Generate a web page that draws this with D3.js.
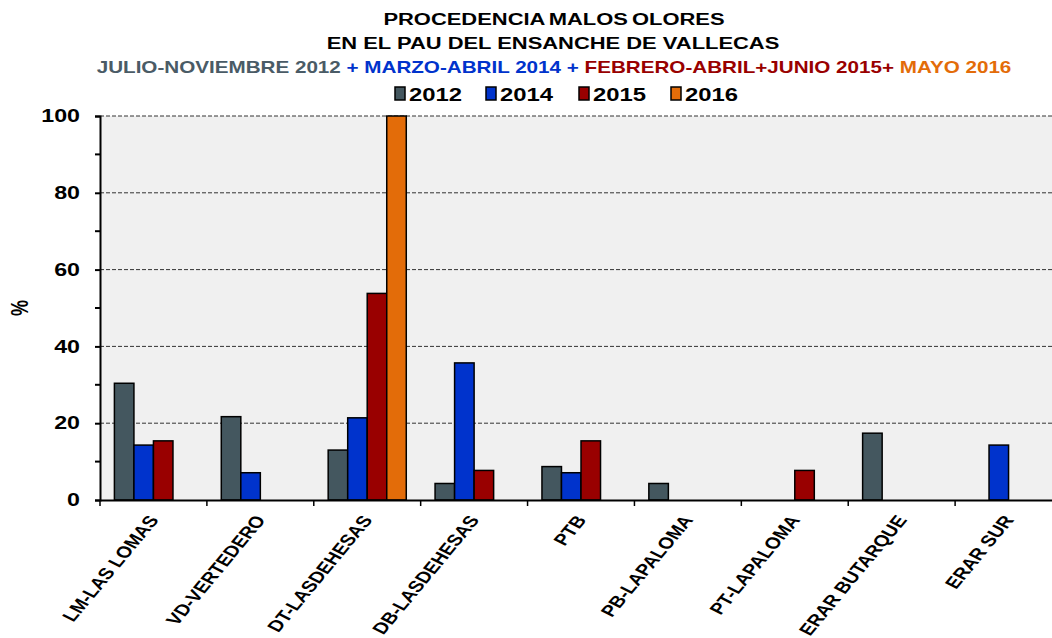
<!DOCTYPE html>
<html>
<head>
<meta charset="utf-8">
<script src="https://cdn.jsdelivr.net/npm/d3@7"></script>
<style>
  body { margin: 0; background: #fff; }
  text { font-family: "Liberation Sans", Arial, sans-serif; font-weight: bold; }
</style>
</head>
<body>
<div class="container"></div>
<script>
// values (percent of complaints per origin)
const categories = ['LM-LAS LOMAS', 'VD-VERTEDERO', 'DT-LASDEHESAS', 'DB-LASDEHESAS', 'PTB',
    'PB-LAPALOMA', 'PT-LAPALOMA', 'ERAR BUTARQUE', 'ERAR SUR'];
const seriesNames = ['2012', '2014', '2015', '2016'];
const values2012 = [30.4, 21.7, 13.0, 4.3, 8.7, 4.3, 0, 17.4, 0];
const values2014 = [14.3, 7.1, 21.4, 35.7, 7.1, 0, 0, 0, 14.3];
const values2015 = [15.4, 0, 53.8, 7.7, 15.4, 0, 7.7, 0, 0];
const values2016 = [0, 0, 100, 0, 0, 0, 0, 0, 0];
const yTicks = [0, 20, 40, 60, 80, 100];
const colors = ['#44575f', '#0033cc', '#990000', '#e36c09'];

const w = 1052, h = 638;
const padding = { top: 116, bottom: 138, left: 100, right: -10 };
// the original picture is stretched sideways, text included
const sx = 1.29;

const series = [values2012, values2014, values2015, values2016];
const dataset = [];
categories.forEach((c, i) => {
    series.forEach((s, j) => {
        if (s[i] > 0) dataset.push({ cat: c, year: seriesNames[j], value: s[i], color: colors[j] });
    });
});

const svg = d3.select('div.container')
    .append('svg')
    .attr('width', w)
    .attr('height', h);

const xScale = d3.scaleBand()
    .domain(categories)
    .range([padding.left, w - padding.right]);

const groupScale = d3.scaleBand()
    .domain(seriesNames)
    .range([14.4, xScale.bandwidth() - 14.4]);

const yScale = d3.scaleLinear()
    .domain([0, 100])
    .range([h - padding.bottom, padding.top]);

const stretched = (x, y, extra) => 'translate(' + x + ',' + y + ') scale(' + sx + ',1)' + (extra || '');

// plot background
svg.append('rect')
    .attr('x', padding.left)
    .attr('y', padding.top)
    .attr('width', w - padding.left)
    .attr('height', h - padding.bottom - padding.top)
    .attr('fill', '#f0f0f0');

// grid lines
svg.append('g')
    .selectAll('line')
    .data(yTicks.slice(1))
    .enter()
    .append('line')
    .attr('x1', padding.left)
    .attr('x2', w)
    .attr('y1', d => yScale(d))
    .attr('y2', d => yScale(d))
    .attr('stroke', '#333')
    .attr('stroke-width', 1)
    .attr('stroke-dasharray', '4,2');

// bars
svg.append('g')
    .selectAll('rect')
    .data(dataset)
    .enter()
    .append('rect')
    .attr('x', d => xScale(d.cat) + groupScale(d.year))
    .attr('y', d => yScale(d.value))
    .attr('width', groupScale.bandwidth())
    .attr('height', d => yScale(0) - yScale(d.value))
    .attr('fill', d => d.color)
    .attr('stroke', '#000')
    .attr('stroke-width', 1.5);

// y axis
const yAxis = d3.axisLeft(yScale)
    .tickValues(yTicks)
    .tickSize(5);
const yG = svg.append('g')
    .attr('transform', 'translate(' + padding.left + ',0)')
    .call(yAxis);
yG.select('.domain').attr('stroke', '#000').attr('stroke-width', 2);
yG.selectAll('.tick line').attr('stroke', '#000').attr('stroke-width', 2);
yG.selectAll('.tick text')
    .attr('x', -20 / sx)
    .attr('transform', 'scale(' + sx + ',1)')
    .attr('fill', '#000')
    .style('font-size', '18px')
    .style('font-family', '"Liberation Sans", Arial, sans-serif')
    .style('font-weight', 'bold');
// minor ticks
yG.selectAll('line.minor')
    .data([10, 30, 50, 70, 90])
    .enter()
    .append('line')
    .attr('class', 'minor')
    .attr('x1', -5)
    .attr('x2', 0)
    .attr('y1', d => yScale(d))
    .attr('y2', d => yScale(d))
    .attr('stroke', '#000')
    .attr('stroke-width', 2);

svg.append('text')
    .text('%')
    .attr('transform', stretched(28, yScale(50), ' rotate(-90)'))
    .attr('text-anchor', 'middle')
    .style('font-size', '18px');

// x axis
const xAxis = d3.axisBottom(xScale).tickSize(0).tickFormat('');
const xG = svg.append('g')
    .attr('transform', 'translate(0,' + yScale(0) + ')')
    .call(xAxis);
xG.select('.domain').attr('stroke', '#000').attr('stroke-width', 2);
xG.selectAll('line.sep')
    .data(categories)
    .enter()
    .append('line')
    .attr('class', 'sep')
    .attr('x1', d => xScale(d))
    .attr('x2', d => xScale(d))
    .attr('y1', 0)
    .attr('y2', 6)
    .attr('stroke', '#000')
    .attr('stroke-width', 1.5);

svg.append('g')
    .selectAll('text')
    .data(categories)
    .enter()
    .append('text')
    .text(d => d)
    .attr('text-anchor', 'end')
    .attr('transform', d => stretched(xScale(d) + xScale.bandwidth() / 2 + 6, yScale(0) + 20, ' rotate(-57)'))
    .style('font-size', '16px');

// titles
svg.append('text')
    .text('PROCEDENCIA MALOS OLORES')
    .attr('transform', stretched(554, 25))
    .attr('text-anchor', 'middle')
    .style('font-size', '17px')
    .style('word-spacing', '-1.5px');
svg.append('text')
    .text('EN EL PAU DEL ENSANCHE DE VALLECAS')
    .attr('transform', stretched(553, 49))
    .attr('text-anchor', 'middle')
    .style('font-size', '17px');

const sub = svg.append('text')
    .attr('transform', stretched(554, 73))
    .attr('text-anchor', 'middle')
    .style('font-size', '16px');
const subParts = [
    ['JULIO-NOVIEMBRE 2012 ', '#4a5b66'],
    ['+ MARZO-ABRIL 2014 + ', '#0033cc'],
    ['FEBRERO-ABRIL+JUNIO 2015+ ', '#990000'],
    ['MAYO 2016', '#e36c09']
];
sub.selectAll('tspan')
    .data(subParts)
    .enter()
    .append('tspan')
    .text(d => d[0])
    .attr('fill', d => d[1]);

// legend
const legX = [395, 486, 579, 671];
const leg = svg.append('g')
    .selectAll('g')
    .data(seriesNames)
    .enter()
    .append('g')
    .attr('transform', (d, i) => 'translate(' + legX[i] + ',87)');
leg.append('rect')
    .attr('width', 10)
    .attr('height', 13)
    .attr('fill', (d, i) => colors[i])
    .attr('stroke', '#000')
    .attr('stroke-width', 1.5);
leg.append('text')
    .text(d => d)
    .attr('transform', stretched(14, 14))
    .style('font-size', '18.5px');
</script>
</body>
</html>
